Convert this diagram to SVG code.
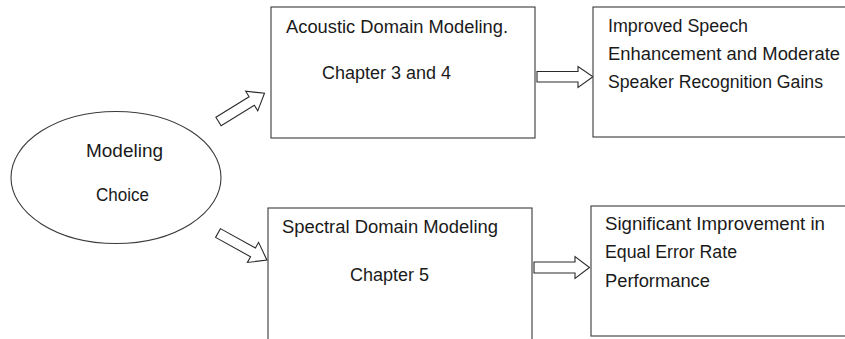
<svg xmlns="http://www.w3.org/2000/svg" width="845" height="339" viewBox="0 0 845 339">
<style>
.box{fill:#fff;stroke:#3a3a3a;stroke-width:1.1}
.arr{fill:#fff;stroke:#2a2a2a;stroke-width:1.1;stroke-linejoin:miter}
.t{font-family:"Liberation Sans",Arial,sans-serif;font-size:17.5px;fill:#1a1a1a}
</style>
<rect width="845" height="339" fill="#fff"/>
<g id="connectors">
<path class="arr" transform="translate(218.5,121.5) rotate(-31.6)" d="M0,-5 L39,-5 L39,-11.5 L54,0 L39,11.5 L39,5 L0,5 Z"/>
<path class="arr" transform="translate(218,233) rotate(29)" d="M0,-5 L40,-5 L40,-11.5 L56,0 L40,11.5 L40,5 L0,5 Z"/>
<path class="arr" d="M537,71.5 L578,71.5 L578,66.5 L593,76.8 L578,87.5 L578,82 L537,82 Z"/>
<path class="arr" d="M534,262 L575,262 L575,256.5 L589.5,267.5 L575,278.5 L575,273 L534,273 Z"/>
</g>
<g id="modeling-choice">
<ellipse class="box" cx="116" cy="177.5" rx="105" ry="66"/>
<text class="t" x="86" y="157" textLength="77" lengthAdjust="spacingAndGlyphs">Modeling</text>
<text class="t" x="96" y="201" textLength="53" lengthAdjust="spacingAndGlyphs">Choice</text>
</g>
<g id="acoustic">
<rect class="box" x="271" y="7" width="264" height="131"/>
<text class="t" x="286" y="33" textLength="222" lengthAdjust="spacingAndGlyphs">Acoustic Domain Modeling.</text>
<text class="t" x="322" y="79" textLength="129" lengthAdjust="spacingAndGlyphs">Chapter 3 and 4</text>
</g>
<g id="spectral">
<rect class="box" x="268" y="208" width="264" height="140"/>
<text class="t" x="282" y="233" textLength="216" lengthAdjust="spacingAndGlyphs">Spectral Domain Modeling</text>
<text class="t" x="350" y="281" textLength="79" lengthAdjust="spacingAndGlyphs">Chapter 5</text>
</g>
<g id="improved">
<rect class="box" x="593" y="7" width="270" height="130"/>
<text class="t" x="608" y="32" textLength="140" lengthAdjust="spacingAndGlyphs">Improved Speech</text>
<text class="t" x="608" y="60" textLength="232" lengthAdjust="spacingAndGlyphs">Enhancement and Moderate</text>
<text class="t" x="608" y="88" textLength="215" lengthAdjust="spacingAndGlyphs">Speaker Recognition Gains</text>
</g>
<g id="significant">
<rect class="box" x="591" y="206" width="272" height="130"/>
<text class="t" x="605" y="230" textLength="220" lengthAdjust="spacingAndGlyphs">Significant Improvement in</text>
<text class="t" x="605" y="258" textLength="132" lengthAdjust="spacingAndGlyphs">Equal Error Rate</text>
<text class="t" x="605" y="287" textLength="105" lengthAdjust="spacingAndGlyphs">Performance</text>
</g>
</svg>
